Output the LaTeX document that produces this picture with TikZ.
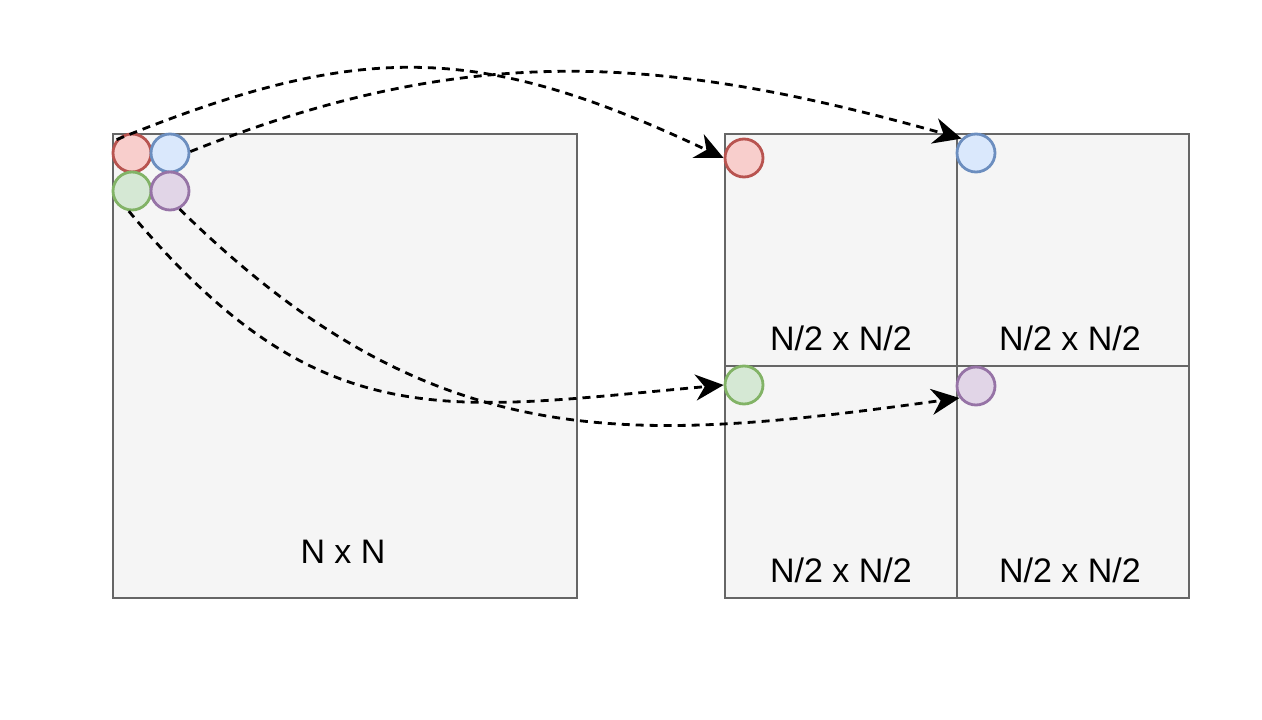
\documentclass[tikz,border=0pt]{standalone}
\usepackage{fontspec}
\setmainfont{Liberation Sans}
\usetikzlibrary{arrows.meta}
\definecolor{boxfill}{HTML}{F5F5F5}
\definecolor{boxline}{HTML}{666666}
\definecolor{redfill}{HTML}{F8CECC}
\definecolor{redline}{HTML}{B85450}
\definecolor{bluefill}{HTML}{DAE8FC}
\definecolor{blueline}{HTML}{6C8EBF}
\definecolor{greenfill}{HTML}{D5E8D4}
\definecolor{greenline}{HTML}{82B366}
\definecolor{purplefill}{HTML}{E1D5E7}
\definecolor{purpleline}{HTML}{9673A6}
\begin{document}
\begin{tikzpicture}[x=1pt,y=-1pt,
  box/.style={draw=boxline, fill=boxfill, line width=2.6pt, inner sep=0pt},
  dot/.style={circle, line width=2.8pt, minimum size=38pt, inner sep=0pt},
  lbl/.style={font=\fontsize{34}{40}\selectfont, inner sep=0pt},
  link/.style={dash pattern=on 8pt off 6pt, line width=2.8pt,
    -{Stealth[length=28pt,width=26pt,inset=9pt]}}]
\useasboundingbox (0,0) rectangle (1262,720);
\fill[white] (0,0) rectangle (1262,720);
% big square
\node[box, minimum size=464pt] (big) at (345,366) {};
% quadrants
\node[box, minimum size=232pt] (q1) at (841,250) {};
\node[box, minimum size=232pt] (q2) at (1073,250) {};
\node[box, minimum size=232pt] (q3) at (841,482) {};
\node[box, minimum size=232pt] (q4) at (1073,482) {};
% labels
\node[lbl] (tbig) at (343,552) {N x N};
\node[lbl] (t1) at (841,338) {N/2 x N/2};
\node[lbl] (t2) at (1070,338) {N/2 x N/2};
\node[lbl] (t3) at (841,570) {N/2 x N/2};
\node[lbl] (t4) at (1070,570) {N/2 x N/2};
% source circles
\node[dot, draw=redline, fill=redfill] (r1) at (132,153) {};
\node[dot, draw=blueline, fill=bluefill] (b1) at (170,153) {};
\node[dot, draw=greenline, fill=greenfill] (g1) at (132,191) {};
\node[dot, draw=purpleline, fill=purplefill] (p1) at (170,191) {};
% target circles
\node[dot, draw=redline, fill=redfill] (r2) at (744,158) {};
\node[dot, draw=blueline, fill=bluefill] (b2) at (976,153) {};
\node[dot, draw=greenline, fill=greenfill] (g2) at (744,385) {};
\node[dot, draw=purpleline, fill=purplefill] (p2) at (976,386) {};
% connectors
\draw[link] (r1.139) .. controls (362,40) and (480,43) .. (r2.west);
\draw[link] (b1.4) .. controls (470,40) and (664,55) .. (b2.135);
\draw[link] (g1.261) .. controls (320,440) and (445,410) .. (g2.west);
\draw[link] (p1.298) .. controls (435,460) and (631,443) .. (p2.216);
\end{tikzpicture}
\end{document}
